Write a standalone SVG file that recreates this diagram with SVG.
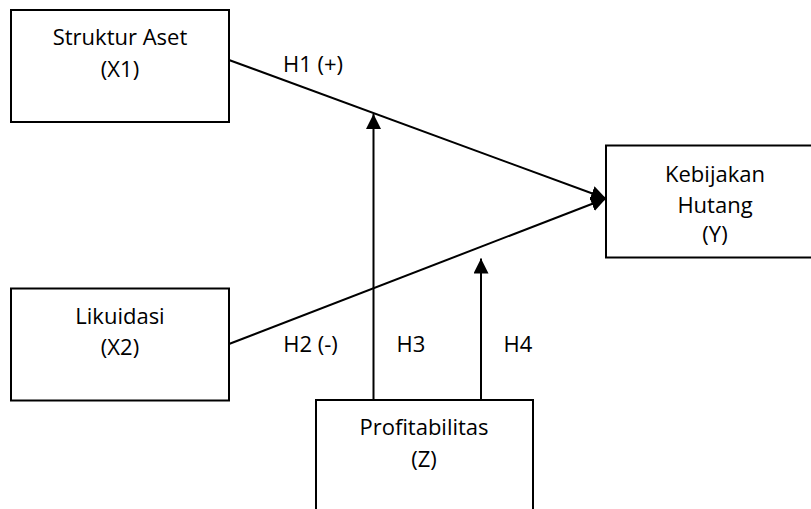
<svg xmlns="http://www.w3.org/2000/svg" width="811" height="509" viewBox="0 0 811 509">
<defs>
<style>
.box{fill:#fff;stroke:#000;stroke-width:2}
.t{font-family:"Open Sans","Liberation Sans",sans-serif;font-size:22px;fill:#000;text-anchor:middle}
.c{fill:none;stroke:#000;stroke-width:2}
</style>
<marker id="ah" viewBox="0 0 15 15" refX="15" refY="7.5" markerWidth="15" markerHeight="15" markerUnits="userSpaceOnUse" orient="auto">
<path d="M0,0 L15,7.5 L0,15 z" fill="#000"/>
</marker>
</defs>
<rect width="811" height="509" fill="#fff"/>
<g id="connectors">
<line class="c" x1="229" y1="60" x2="606" y2="198.5" marker-end="url(#ah)"/>
<line class="c" x1="229" y1="344" x2="606" y2="198.5" marker-end="url(#ah)"/>
<line class="c" x1="373.5" y1="400" x2="373.5" y2="114" marker-end="url(#ah)"/>
<line class="c" x1="481" y1="400" x2="481" y2="258.5" marker-end="url(#ah)"/>
<text class="t" x="313" y="72">H1 (+)</text>
<text class="t" x="310.5" y="352">H2 (-)</text>
<text class="t" x="411" y="352">H3</text>
<text class="t" x="518" y="352">H4</text>
</g>
<g id="x1">
<rect class="box" x="11" y="10" width="218" height="112"/>
<text class="t" x="120" y="44.5">Struktur Aset</text>
<text class="t" x="120" y="76.5">(X1)</text>
</g>
<g id="x2">
<rect class="box" x="11" y="288.5" width="218" height="112"/>
<text class="t" x="120" y="324">Likuidasi</text>
<text class="t" x="120" y="354.5">(X2)</text>
</g>
<g id="y">
<rect class="box" x="606" y="145.5" width="218" height="112"/>
<text class="t" x="715" y="182">Kebijakan</text>
<text class="t" x="715" y="212.5">Hutang</text>
<text class="t" x="715" y="242">(Y)</text>
</g>
<g id="z">
<rect class="box" x="316" y="400" width="217" height="130"/>
<text class="t" x="424" y="435">Profitabilitas</text>
<text class="t" x="424" y="467">(Z)</text>
</g>
</svg>
